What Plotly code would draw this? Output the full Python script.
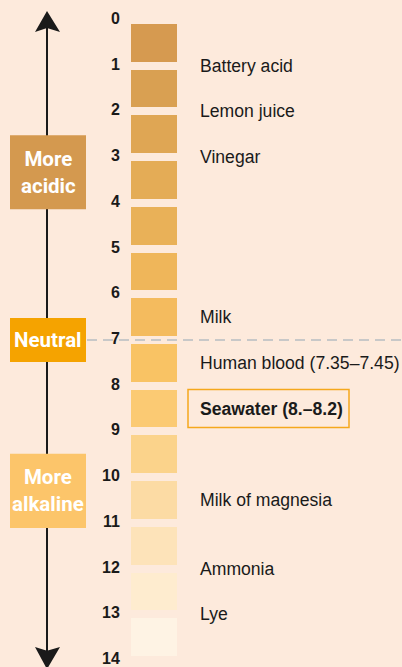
import plotly.graph_objects as go

# ---- data ----
ph_bars = list(range(14))                 # bar i covers pH i .. i+1
tick_values = list(range(15))
tick_labels = [str(v) for v in tick_values]
bar_colors = ["#d69a50", "#d9a052", "#dfa654", "#e4ac56", "#e9b158", "#efb65a",
              "#f4bb5e", "#f9c364", "#fbca73", "#fbd38b", "#fcdba4", "#fde3b9",
              "#feeccf", "#fef3e4"]
substances = ["Battery acid", "Lemon juice", "Vinegar", "Milk",
              "Human blood (7.35–7.45)", "Seawater (8.–8.2)",
              "Milk of magnesia", "Ammonia", "Lye"]
substance_ph = [1, 2, 3, 6.5, 7.5, 8.5, 10.5, 12, 13]
highlight = "Seawater (8.–8.2)"
regions = ["More<br>acidic", "Neutral", "More<br>alkaline"]
region_ph = [3.33, 7, 10.3]
region_half = [0.81, 0.48, 0.81]
region_colors = ["#d4994f", "#f5a300", "#fcc56a"]
neutral_ph = 7

BG = "#fdeadc"
TXT = "#1a1a1a"
PX = 45.714  # pixels per pH unit

fig = go.Figure()
fig.add_trace(go.Bar(
    y=[p + 0.5 for p in ph_bars], x=[46] * len(ph_bars), base=[131] * len(ph_bars),
    orientation="h", width=0.825, marker=dict(color=bar_colors, line=dict(width=0)),
    hoverinfo="skip", showlegend=False))

shapes = []
ann = []
# arrow axis
shapes.append(dict(type="line", xref="x", yref="y", x0=47, x1=47, y0=0.1, y1=13.9,
                   line=dict(color=TXT, width=2), layer="below"))
shapes.append(dict(type="path", xref="x", yref="y",
                   path="M 47,-0.197 L 60,0.2625 L 47,0.175 L 35,0.2625 Z",
                   fillcolor=TXT, line=dict(width=0)))
shapes.append(dict(type="path", xref="x", yref="y",
                   path="M 47,14.2 L 60,13.717 L 47,13.80 L 35,13.717 Z",
                   fillcolor=TXT, line=dict(width=0)))
# neutral dashed line
shapes.append(dict(type="line", xref="x", yref="y", x0=87, x1=402, y0=neutral_ph, y1=neutral_ph,
                   line=dict(color="#c8c8c8", width=2, dash="10px,6px"), layer="below"))
# region boxes
for r, p, h, c in zip(regions, region_ph, region_half, region_colors):
    shapes.append(dict(type="rect", xref="x", yref="y", x0=10, x1=86, y0=p - h, y1=p + h,
                       fillcolor=c, line=dict(width=0)))
    ann.append(dict(x=48, y=p, xref="x", yref="y", text=f"<b>{r}</b>", showarrow=False,
                    xanchor="center", yanchor="middle",
                    font=dict(family="Roboto, sans-serif", size=20.5, color="white")))
# tick labels
for v, t in zip(tick_values, tick_labels):
    ann.append(dict(x=122, y=v, xref="x", yref="y", yshift=1.5, text=f"<b>{t}</b>",
                    showarrow=False, xanchor="right", yanchor="middle",
                    font=dict(family="Liberation Sans, Arial, sans-serif", size=16, color=TXT)))
# substances
for s, p in zip(substances, substance_ph):
    bold = s == highlight
    ann.append(dict(x=198, y=p, xref="x", yref="y", text=f"<b>{s}</b>" if bold else s,
                    showarrow=False, xanchor="left", yanchor="middle",
                    font=dict(family="Liberation Sans, Arial, sans-serif", size=17.6, color=TXT)))
    if bold:
        shapes.append(dict(type="rect", xref="x", yref="y", x0=188, x1=349,
                           y0=p - 0.415, y1=p + 0.415,
                           line=dict(color="#f5a81c", width=1.5), fillcolor="rgba(0,0,0,0)"))

fig.update_layout(
    width=402, height=667, margin=dict(l=0, r=0, t=0, b=0),
    paper_bgcolor=BG, plot_bgcolor=BG, shapes=shapes, annotations=ann,
    xaxis=dict(range=[0, 402], visible=False, fixedrange=True),
    yaxis=dict(range=[14 + 7 / PX, -20 / PX], visible=False, fixedrange=True),
    bargap=0, showlegend=False)

fig.write_html("out.html", config={"displayModeBar": False},
               post_script="document.body.style.margin='0';document.body.style.overflow='hidden';"
                           "document.body.style.background='" + BG + "';")
